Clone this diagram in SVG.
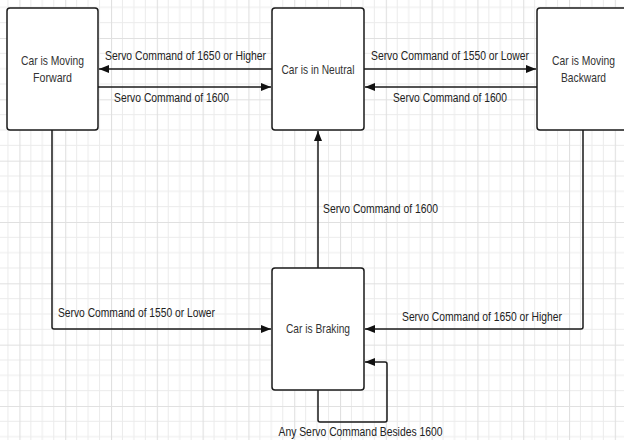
<svg xmlns="http://www.w3.org/2000/svg" width="624" height="440" viewBox="0 0 624 440">
<style>
.box{fill:#fff;stroke:#1a1a1a;stroke-width:1.5}
.lbl{font-family:"Liberation Sans Narrow","Liberation Sans",Arial,sans-serif;font-size:12.5px;fill:#222}
.nd{font-family:"Liberation Sans Narrow","Liberation Sans",Arial,sans-serif;font-size:13.5px;fill:#333;text-anchor:middle}
.cn{fill:none;stroke:#1a1a1a;stroke-width:1.5;stroke-linejoin:round}
</style>
<defs>
<pattern id="grid" x="19.4" y="38" width="45.8" height="61.33" patternUnits="userSpaceOnUse">
<g stroke="#ebebeb" stroke-width="1">
<line x1="11.45" y1="0" x2="11.45" y2="61.33"/>
<line x1="22.9" y1="0" x2="22.9" y2="61.33"/>
<line x1="34.35" y1="0" x2="34.35" y2="61.33"/>
<line x1="0" y1="15.33" x2="45.8" y2="15.33"/>
<line x1="0" y1="30.67" x2="45.8" y2="30.67"/>
<line x1="0" y1="46" x2="45.8" y2="46"/>
</g>
<g stroke="#e0e0e0" stroke-width="1.2">
<line x1="0.5" y1="0" x2="0.5" y2="61.33"/>
<line x1="0" y1="0.5" x2="45.8" y2="0.5"/>
</g>
</pattern>
<marker id="ah" viewBox="0 0 10 8" refX="10" refY="4" markerWidth="10" markerHeight="8" markerUnits="userSpaceOnUse" orient="auto">
<path d="M0,0 L10,4 L0,8 Z" fill="#111"/>
</marker>
</defs>
<rect width="624" height="440" fill="#fff"/>
<rect width="624" height="440" fill="url(#grid)"/>

<g id="connectors">
<path class="cn" d="M272,69 H99" marker-end="url(#ah)"/>
<path class="cn" d="M98,87 H271" marker-end="url(#ah)"/>
<path class="cn" d="M364,69 H536" marker-end="url(#ah)"/>
<path class="cn" d="M537,87 H365" marker-end="url(#ah)"/>
<path class="cn" d="M318,268 V131" marker-end="url(#ah)"/>
<path class="cn" d="M52,130 V327 Q52,329 54,329 H271" marker-end="url(#ah)"/>
<path class="cn" d="M583,130 V327 Q583,329 581,329 H365" marker-end="url(#ah)"/>
<path class="cn" d="M318,390 V420 Q318,422 320,422 H385 Q387,422 387,420 V364 Q387,362 385,362 H365" marker-end="url(#ah)"/>
<text class="lbl" x="105" y="60" textLength="161" lengthAdjust="spacingAndGlyphs">Servo Command of 1650 or Higher</text>
<text class="lbl" x="114" y="101.5" textLength="115" lengthAdjust="spacingAndGlyphs">Servo Command of 1600</text>
<text class="lbl" x="371" y="60" textLength="158" lengthAdjust="spacingAndGlyphs">Servo Command of 1550 or Lower</text>
<text class="lbl" x="393" y="101.5" textLength="114" lengthAdjust="spacingAndGlyphs">Servo Command of 1600</text>
<text class="lbl" x="323" y="213" textLength="115" lengthAdjust="spacingAndGlyphs">Servo Command of 1600</text>
<text class="lbl" x="58" y="317" textLength="157" lengthAdjust="spacingAndGlyphs">Servo Command of 1550 or Lower</text>
<text class="lbl" x="402" y="321" textLength="160" lengthAdjust="spacingAndGlyphs">Servo Command of 1650 or Higher</text>
<text class="lbl" x="278.5" y="436" textLength="164" lengthAdjust="spacingAndGlyphs">Any Servo Command Besides 1600</text>
</g>

<g id="forward">
<rect class="box" x="7" y="8" width="91" height="122" rx="3"/>
<text class="nd" x="52.5" y="65" textLength="63" lengthAdjust="spacingAndGlyphs">Car is Moving</text>
<text class="nd" x="52.5" y="82" textLength="39" lengthAdjust="spacingAndGlyphs">Forward</text>
</g>
<g id="neutral">
<rect class="box" x="272" y="8" width="92" height="122" rx="3"/>
<text class="nd" x="318" y="73.5" textLength="73" lengthAdjust="spacingAndGlyphs">Car is in Neutral</text>
</g>
<g id="backward">
<rect class="box" x="537" y="8" width="100" height="122" rx="3"/>
<text class="nd" x="583.5" y="65" textLength="63" lengthAdjust="spacingAndGlyphs">Car is Moving</text>
<text class="nd" x="583.5" y="82" textLength="45" lengthAdjust="spacingAndGlyphs">Backward</text>
</g>
<g id="braking">
<rect class="box" x="272" y="268" width="92" height="122" rx="3"/>
<text class="nd" x="318" y="332.5" textLength="64" lengthAdjust="spacingAndGlyphs">Car is Braking</text>
</g>
</svg>
